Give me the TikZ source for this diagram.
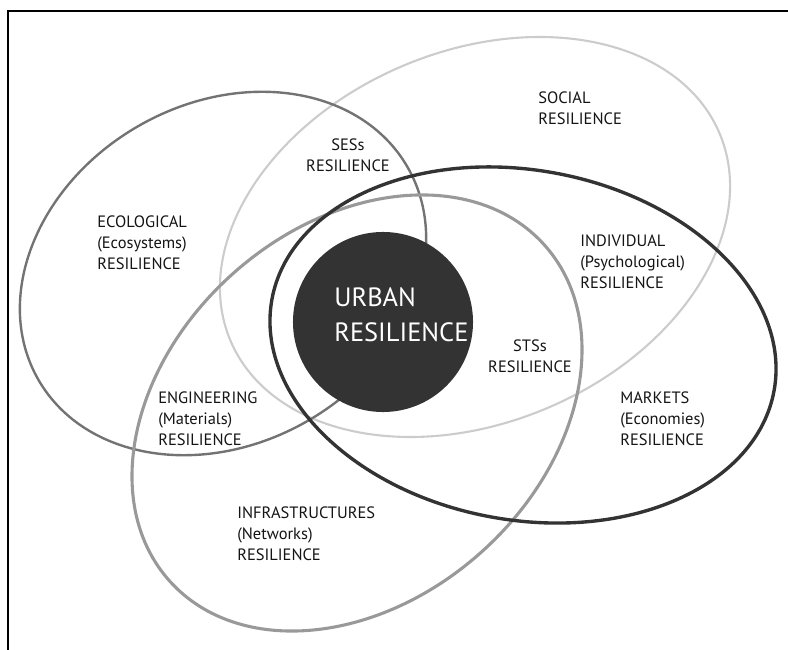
\documentclass[tikz,border=0pt]{standalone}
\usepackage{fontspec}
\setmainfont{PT Sans}
\usepackage{tikz}

\begin{document}
\begin{tikzpicture}[x=0.025cm,y=0.025cm,
  lbl/.style={anchor=north west,inner sep=0pt,align=left,text=black!92,
    font=\fontsize{11.7}{14.7}\selectfont},
  lblc/.style={lbl,anchor=north,align=center}]
\useasboundingbox (0,0) rectangle (788,650);
\draw[line width=1.4pt] (8,0) -- (8,639) -- (788,639);
\draw[line width=1.5pt,black!20,rotate around={23:(475,413)}] (475,413) ellipse (265.6 and 185.7);
\draw[line width=1.7pt,black!55,rotate around={30:(223,376.5)}] (223,376.5) ellipse (213 and 170);
\draw[line width=2.2pt,black!40,rotate around={41.9:(357,237)}] (357,237) ellipse (251.7 and 186.6);
\draw[line width=2.4pt,black!80,rotate around={-10.3:(523,305)}] (523,305) ellipse (255.2 and 174.9);
\node[circle,fill=black!80,minimum size=4.5cm,inner sep=0pt] (urban) at (383,328) {};
\node[lbl,text=white,font=\fontsize{18.8}{24.9}\selectfont] (urbanlbl) at (334,363) {URBAN\\RESILIENCE};
\node[lbl] (social) at (538,558) {SOCIAL\\RESILIENCE};
\node[lblc] (ses) at (348,511) {SESs\\RESILIENCE};
\node[lbl] (ecological) at (97,434) {ECOLOGICAL\\(Ecosystems)\\RESILIENCE};
\node[lbl] (individual) at (580,415) {INDIVIDUAL\\(Psychological)\\RESILIENCE};
\node[lblc] (sts) at (530,310) {STSs\\RESILIENCE};
\node[lbl] (markets) at (620,258) {MARKETS\\(Economies)\\RESILIENCE};
\node[lbl] (engineering) at (158,258) {ENGINEERING\\(Materials)\\RESILIENCE};
\node[lbl] (infra) at (237,143) {INFRASTRUCTURES\\(Networks)\\RESILIENCE};
\end{tikzpicture}
\end{document}
